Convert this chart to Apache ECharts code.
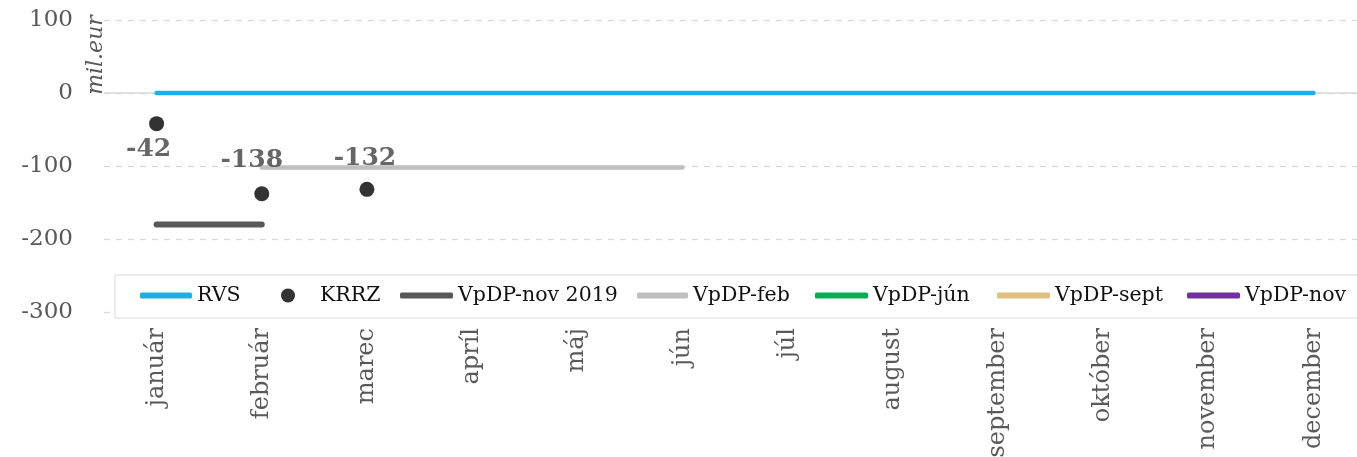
<!DOCTYPE html>
<html>
<head>
<meta charset="utf-8">
<script src="https://cdn.jsdelivr.net/npm/echarts@6/dist/echarts.min.js"></script>
<style>html,body{margin:0;padding:0;background:#fff;overflow:hidden}#c{width:1380px;height:457px}</style>
</head>
<body>
<div id="c"></div>
<script>
const months = ['január','február','marec','apríl','máj','jún','júl','august','september','október','november','december'];
const rvs = [0,0,0,0,0,0,0,0,0,0,0,0];
const krrz = [-42,-138,-132,null,null,null,null,null,null,null,null,null];
const vpdpNov2019 = [-180,-180,null,null,null,null,null,null,null,null,null,null];
const vpdpFeb = [null,-102,-102,-102,-102,-102,null,null,null,null,null,null];
const vpdpJun = [null,null,null,null,null,null,null,null,null,null,null,null];
const vpdpSept = [null,null,null,null,null,null,null,null,null,null,null,null];
const vpdpNov = [null,null,null,null,null,null,null,null,null,null,null,null];
const yTicks = {min:-300, max:100, interval:100};

const serif = '"DejaVu Serif", "Liberation Serif", serif';
const krrzLabelCfg = [
  {position:'bottom', distance:6, offset:[-8,0]},
  {position:'top', distance:13, offset:[-10,0]},
  {position:'top', distance:11, offset:[-2,0]}
];
const krrzData = krrz.map((v,i)=> v==null ? null : ({value:v, label:Object.assign({show:true}, krrzLabelCfg[i]||{})}));

function lineSeries(name, data, color, width, extra){
  return Object.assign({
    name, type:'line', data, symbol:'none', showSymbol:false, connectNulls:false,
    lineStyle:{color, width, cap:'round'}, itemStyle:{color}, z:3
  }, extra||{});
}

const legendItems = [
  {name:'RVS', left:140, icon:'roundRect', w:52, h:6, pad:0},
  {name:'KRRZ', left:281, icon:'circle', w:14, h:14, pad:20},
  {name:'VpDP-nov 2019', left:400, icon:'roundRect', w:53, h:6, pad:0},
  {name:'VpDP-feb', left:637, icon:'roundRect', w:51, h:6, pad:0},
  {name:'VpDP-jún', left:815, icon:'roundRect', w:53, h:6, pad:0},
  {name:'VpDP-sept', left:997, icon:'roundRect', w:53, h:6, pad:0},
  {name:'VpDP-nov', left:1187, icon:'roundRect', w:53, h:6, pad:0}
];
const legends = legendItems.map(it=>({
  data:[{name:it.name, icon:it.icon}], left:it.left, top:285, orient:'horizontal',
  itemWidth:it.w, itemHeight:it.h, z:10, selectedMode:false, padding:0, height:24,
  textStyle:{fontFamily:serif, fontSize:20.5, color:'#111', padding:[0,0,0,it.pad]}
}));

const option = {
  animation:false,
  backgroundColor:'#fff',
  grid:{left:104, top:20, width:1262, height:292, containLabel:false, outerBoundsMode:'none'},
  legend: legends,
  graphic:[
    {type:'rect', shape:{x:115, y:275, width:1260, height:43}, style:{fill:'#fff', stroke:'#d9d9d9', lineWidth:1}, z:2},
    {type:'text', x:96, y:55, rotation:Math.PI/2, style:{text:'mil.eur', fontFamily:serif, fontStyle:'italic', fontSize:22, fill:'#595959', align:'center', verticalAlign:'middle'}, z:5}
  ],
  xAxis:{
    type:'category', data:months, boundaryGap:true,
    axisLine:{show:false}, axisTick:{show:false},
    axisLabel:{rotate:90, margin:16, fontFamily:serif, fontSize:24, color:'#595959'}
  },
  yAxis:{
    type:'value', min:yTicks.min, max:yTicks.max, interval:yTicks.interval,
    axisLine:{show:false}, axisTick:{show:false},
    axisLabel:{margin:31, fontFamily:serif, fontSize:23, color:'#595959'},
    splitLine:{show:true, lineStyle:{type:[6,6], color:'#d9d9d9', width:1.3}}
  },
  series:[
    lineSeries('VpDP-jún', vpdpJun, '#00b050', 4, {
      z:1,
      markLine:{silent:true, symbol:'none', label:{show:false}, lineStyle:{type:'solid', color:'#d9d9d9', width:1.5}, data:[{yAxis:0}], z:1}
    }),
    lineSeries('RVS', rvs, '#1ab0e8', 4.5),
    {
      name:'KRRZ', type:'scatter', data:krrzData, symbol:'circle', symbolSize:15,
      itemStyle:{color:'#000'}, z:4,
      label:{show:true, formatter:'{c}', fontFamily:serif, fontWeight:'bold', fontSize:25, color:'#404040'}
    },
    lineSeries('VpDP-nov 2019', vpdpNov2019, '#595959', 6),
    lineSeries('VpDP-feb', vpdpFeb, '#bfbfbf', 4.5),
    lineSeries('VpDP-sept', vpdpSept, '#dfc080', 4),
    lineSeries('VpDP-nov', vpdpNov, '#7030a0', 4)
  ]
};
const chart = echarts.init(document.getElementById('c'), null, {renderer:'canvas'});
chart.setOption(option);
</script>
</body>
</html>
